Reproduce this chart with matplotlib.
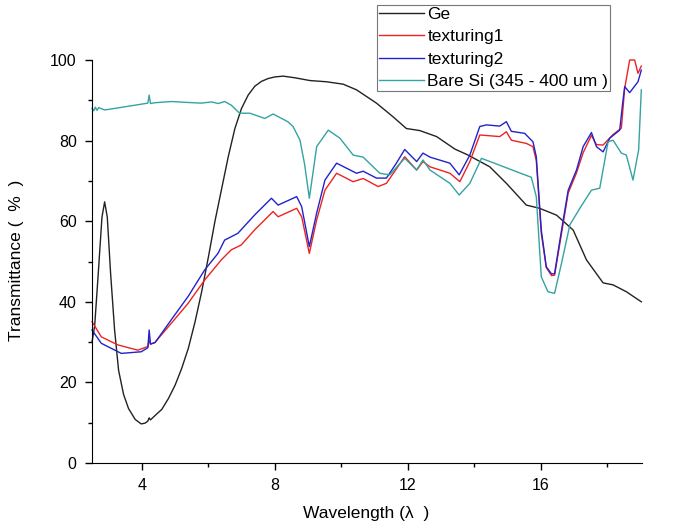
import numpy as np
import matplotlib
matplotlib.use('Agg')
import matplotlib.pyplot as plt
from matplotlib.ticker import MultipleLocator

plt.rcParams['font.family'] = ['Liberation Sans', 'DejaVu Sans']

# Ge
ge_x = [2.5, 2.58, 2.68, 2.8, 2.88, 2.96, 3.06, 3.18, 3.3, 3.45, 3.6, 3.8, 3.98, 4.1,
        4.18, 4.22, 4.26, 4.4, 4.6, 4.8, 5.0, 5.2, 5.4, 5.6, 5.8, 6.0, 6.2, 6.4, 6.6,
        6.8, 7.0, 7.2, 7.4, 7.6, 7.8, 8.0, 8.25, 8.6,
        9.06, 9.56, 10.06, 10.46, 11.06, 11.56, 11.96, 12.36, 12.87, 13.42, 13.82,
        14.47, 14.97, 15.57, 15.97, 16.48, 16.98, 17.38, 17.88, 18.18, 18.58, 19.03]
ge_y = [30, 34, 46, 61, 64.8, 61, 47, 33, 23, 17, 13.5, 10.8, 9.7, 9.9,
        10.4, 11.2, 10.7, 11.8, 13.3, 16, 19.3, 23.5, 28.5, 35, 42.5, 51, 60, 68, 76,
        83, 88, 91.3, 93.5, 94.7, 95.4, 95.8, 96, 95.6,
        94.9, 94.6, 94, 92.6, 89.3, 85.9, 83, 82.5, 81, 77.9, 76.4,
        73.5, 69.4, 64, 63.2, 61.5, 57.8, 50.4, 44.7, 44.2, 42.5, 40]

# texturing1
t1_x = [2.5, 2.78, 3.28, 3.88, 4.18, 4.22, 4.26, 4.39, 4.89, 5.39, 5.89, 6.39, 6.69,
        6.99, 7.39, 7.95, 8.1, 8.66, 8.81, 9.04, 9.26, 9.51, 9.86, 10.36, 10.66, 11.11,
        11.36, 11.91, 12.27, 12.46, 12.67, 13.27, 13.57, 13.87, 14.17, 14.77, 14.97,
        15.12, 15.57, 15.77, 15.87, 16.02, 16.17, 16.33, 16.42, 16.63, 16.83, 17.08,
        17.28, 17.53, 17.68, 17.88, 18.18, 18.43, 18.53, 18.68, 18.83, 18.93, 19.03]
t1_y = [35.1, 31.3, 29.3, 28, 28.9, 30.5, 29.5, 29.9, 34.7, 39.6, 45.4, 50.4, 52.9,
        54.1, 57.8, 62.4, 61.1, 63.2, 61.1, 52, 60.3, 67.7, 71.9, 69.8, 70.6, 68.6,
        69.4, 76, 72.7, 74.8, 73.5, 71.9, 69.8, 74.8, 81.4, 81, 82.2,
        80.1, 79.3, 78.5, 75, 57, 48.5, 46.5, 46.6, 57, 67, 72,
        77, 81.3, 79, 78.9, 81.5, 83.1, 93, 100, 100, 96.7, 98.5]

# texturing2
t2_x = [2.5, 2.78, 3.38, 3.98, 4.18, 4.22, 4.26, 4.4, 4.89, 5.39, 5.89, 6.29, 6.49,
        6.89, 7.39, 7.9, 8.1, 8.66, 8.81, 9.04, 9.26, 9.51, 9.86, 10.46, 10.66, 11.06,
        11.36, 11.66, 11.91, 12.27, 12.46, 12.67, 13.27, 13.55, 13.87, 14.17, 14.37,
        14.77, 14.97, 15.12, 15.52, 15.77, 15.87, 16.02, 16.17, 16.33, 16.42, 16.63,
        16.83, 17.08, 17.28, 17.53, 17.68, 17.88, 18.08, 18.38, 18.48, 18.53, 18.68,
        18.93, 19.03]
t2_y = [33, 29.7, 27.2, 27.6, 28.6, 33, 29.5, 29.9, 35.6, 41.3, 47.9, 52, 55.3,
        57, 61.5, 65.7, 64, 66.1, 63.6, 53.7, 62, 70.2, 74.4, 71.9, 72.4, 70.7,
        70.7, 74.4, 77.8, 74.8, 76.9, 75.9, 74.4, 71.5, 76.4, 83.5, 83.9,
        83.6, 84.7, 82.3, 81.8, 79.7, 76, 57.8, 48.7, 46.9, 47, 57.8,
        67.7, 72.7, 78.5, 82, 78.5, 77.2, 80.6, 82.6, 90.1, 93.4, 91.9,
        94.6, 97.5]

# Bare Si
si_x = [2.5, 2.55, 2.6, 2.65, 2.7, 2.88, 3.5, 4.18, 4.22, 4.26, 4.39, 4.89, 5.3, 5.79,
        6.1, 6.3, 6.49, 6.69, 6.94, 7.25, 7.7, 7.95, 8.39, 8.55, 8.76, 8.9, 9.04, 9.15,
        9.26, 9.61, 9.96, 10.36, 10.66, 11.16, 11.46, 11.91, 12.27, 12.46, 12.67, 13.27,
        13.55, 13.87, 14.22, 14.67, 15.27, 15.72, 15.87, 16.02, 16.22, 16.42, 16.63,
        16.88, 17.18, 17.53, 17.78, 18.03, 18.18, 18.43, 18.58, 18.78, 18.95, 19.03]
si_y = [88, 87.4, 88.3, 87.5, 88.2, 87.6, 88.4, 89.3, 91.3, 89.2, 89.4, 89.7, 89.5, 89.3,
        89.6, 89.2, 89.7, 88.8, 86.8, 86.8, 85.5, 86.6, 84.7, 83.5, 80.1, 74, 65.7, 72,
        78.5, 82.6, 80.6, 76.4, 75.9, 71.9, 71.5, 75.6, 72.7, 75.2, 72.7, 69.4,
        66.5, 69.4, 75.6, 74.2, 72.3, 70.9, 66.1, 46.2, 42.5, 42.1, 49.6,
        59.1, 63.2, 67.7, 68.2, 79.7, 80.1, 76.9, 76.4, 70.2, 77.7, 92.6]

fig = plt.figure(figsize=(6.82, 5.32), dpi=100)
ax = fig.add_axes([0.1349, 0.1297, 0.8064, 0.7575])

ax.plot(ge_x, ge_y, color='#222222', lw=1.0, label='Ge', clip_on=False)
ax.plot(t1_x, t1_y, color='#ee2222', lw=1.0, label='texturing1', clip_on=False)
ax.plot(t2_x, t2_y, color='#2222cc', lw=1.0, label='texturing2', clip_on=False)
ax.plot(si_x, si_y, color='#33a3a3', lw=1.0, label='Bare Si (345 - 400 um )', clip_on=False)

ax.set_xlim(2.5, 19.05)
ax.set_ylim(0, 100)
ax.xaxis.set_major_locator(MultipleLocator(4))
ax.xaxis.set_minor_locator(MultipleLocator(2))
ax.yaxis.set_major_locator(MultipleLocator(20))
ax.yaxis.set_minor_locator(MultipleLocator(10))
ax.tick_params(which='major', direction='out', length=5, width=1, labelsize=11.5, pad=6)
ax.tick_params(which='minor', direction='out', length=3, width=1)
ax.spines['top'].set_visible(False)
ax.spines['right'].set_visible(False)

ax.set_xlabel('Wavelength (λ  )', fontsize=12.5)
ax.set_ylabel('Transmittance (  %  )', fontsize=12.5)
ax.xaxis.set_label_coords(0.498, -0.107)
ax.yaxis.set_label_coords(-0.124, 0.504)

leg = fig.legend(loc='upper left', bbox_to_anchor=(377 / 682, 1 - 5 / 532),
                 fontsize=12.5, frameon=True, fancybox=False, framealpha=1,
                 edgecolor='#777777', handlelength=2.6, handletextpad=0.2,
                 borderpad=0.1, labelspacing=0.42, borderaxespad=0)
leg.get_frame().set_linewidth(0.8)

fig.savefig('out.png', dpi=100)
